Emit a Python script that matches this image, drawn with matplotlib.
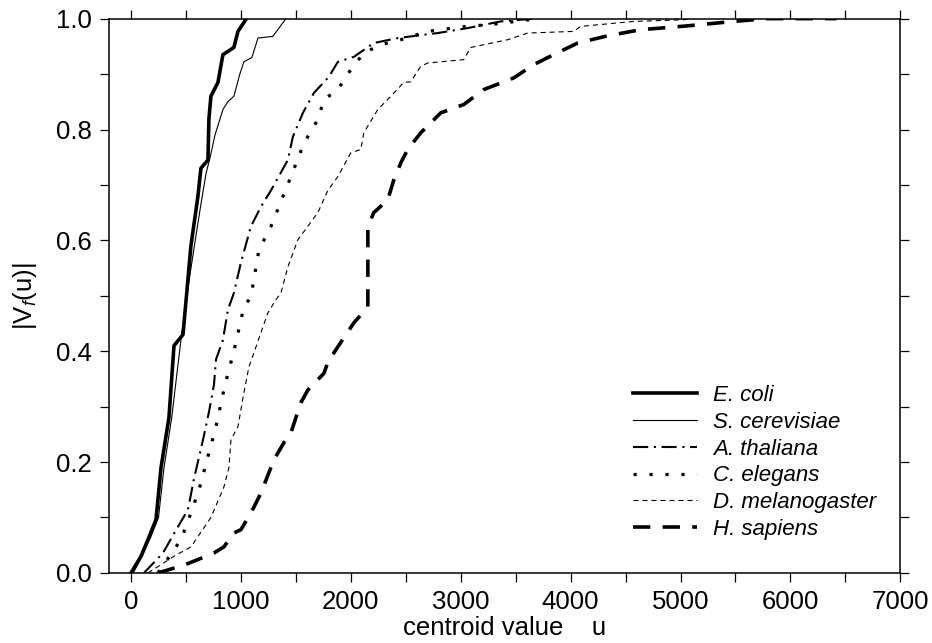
import matplotlib
matplotlib.use('Agg')
import matplotlib.pyplot as plt
from matplotlib.ticker import MultipleLocator, FormatStrFormatter

plt.rcParams['font.family'] = ['Liberation Sans', 'DejaVu Sans']
plt.rcParams['mathtext.fontset'] = 'custom'
plt.rcParams['mathtext.rm'] = 'Liberation Sans'
plt.rcParams['mathtext.it'] = 'Liberation Sans:italic'

# centroid value u vs fraction |V_f(u)|
ecoli_x = [0, 91, 164, 227, 273, 345, 391, 473, 500, 545, 609, 636, 700, 709, 727, 791, 836, 936, 973, 1050]
ecoli_y = [0, 0.03, 0.065, 0.096, 0.19, 0.28, 0.41, 0.43, 0.49, 0.59, 0.68, 0.73, 0.745, 0.82, 0.86, 0.885, 0.935, 0.948, 0.977, 1.0]

scer_x = [20, 100, 180, 250, 300, 370, 460, 530, 600, 640, 682, 720, 764, 836, 880, 936, 990, 1027, 1100, 1155, 1291, 1409]
scer_y = [0, 0.03, 0.065, 0.10, 0.19, 0.28, 0.43, 0.53, 0.62, 0.67, 0.72, 0.75, 0.79, 0.836, 0.85, 0.86, 0.90, 0.922, 0.93, 0.965, 0.968, 1.0]

athal_x = [118, 291, 382, 518, 573, 655, 709, 755, 773, 836, 882, 936, 1000, 1091, 1180, 1273, 1427, 1473, 1564, 1664,
           1800, 1882, 2027, 2209, 2427, 2791, 3064, 3364, 3664]
athal_y = [0, 0.036, 0.068, 0.114, 0.17, 0.24, 0.29, 0.34, 0.385, 0.42, 0.475, 0.505, 0.56, 0.625, 0.66, 0.69, 0.745, 0.787,
           0.83, 0.866, 0.895, 0.922, 0.931, 0.956, 0.965, 0.974, 0.983, 0.995, 1.0]

celeg_x = [245, 455, 545, 618, 700, 773, 845, 882, 936, 1027, 1091, 1164, 1273, 1455, 1573, 1700, 1755, 1882, 2000, 2118,
           2273, 2455, 2700, 3000, 3300, 3700]
celeg_y = [0, 0.06, 0.108, 0.15, 0.21, 0.264, 0.33, 0.36, 0.40, 0.48, 0.498, 0.583, 0.625, 0.715, 0.775, 0.818, 0.854, 0.872,
           0.908, 0.938, 0.953, 0.962, 0.977, 0.985, 0.99, 1.0]

dmel_x = [155, 391, 545, 727, 845, 891, 909, 973, 1027, 1073, 1118, 1245, 1318, 1364, 1427, 1518, 1700, 1791, 1882, 2000,
          2091, 2118, 2245, 2364, 2482, 2545, 2636, 2700, 3027, 3091, 3427, 3609, 4027, 4091, 4573, 5027, 5100]
dmel_y = [0, 0.03, 0.047, 0.10, 0.155, 0.19, 0.24, 0.264, 0.325, 0.372, 0.397, 0.469, 0.493, 0.505, 0.552, 0.601, 0.65, 0.69,
          0.715, 0.758, 0.764, 0.794, 0.836, 0.86, 0.885, 0.886, 0.914, 0.92, 0.926, 0.948, 0.962, 0.974, 0.977, 0.986,
          0.995, 0.998, 1.0]

hsap_x = [245, 482, 755, 845, 936, 1000, 1091, 1182, 1300, 1391, 1455, 1545, 1609, 1755, 1791, 1882, 2027, 2155, 2155, 2209,
          2336, 2391, 2455, 2518, 2636, 2818, 3027, 3209, 3482, 3664, 3845, 4064, 4336, 4636, 5064, 5482, 5791, 6420]
hsap_y = [0, 0.014, 0.036, 0.047, 0.072, 0.078, 0.108, 0.144, 0.204, 0.235, 0.253, 0.307, 0.33, 0.36, 0.38, 0.408, 0.451,
          0.48, 0.625, 0.65, 0.673, 0.709, 0.74, 0.764, 0.794, 0.83, 0.845, 0.872, 0.893, 0.917, 0.935, 0.956, 0.969, 0.98,
          0.987, 0.995, 1.0, 1.0]

fig = plt.figure(figsize=(9.32, 6.43), dpi=100)
ax = fig.add_axes([0.117, 0.109, 0.849, 0.862])

ax.plot(ecoli_x, ecoli_y, color='black', lw=2.6, ls='-', label='E. coli')
ax.plot(scer_x, scer_y, color='black', lw=0.8, ls='-', label='S. cerevisiae')
ax.plot(athal_x, athal_y, color='black', lw=1.5, ls=(0, (7.3, 2.7, 1, 2.7)), label='A. thaliana')
ax.plot(celeg_x, celeg_y, color='black', lw=2.3, ls=(0, (1, 4)), label='C. elegans')
ax.plot(dmel_x, dmel_y, color='black', lw=0.8, ls=(0, (4.5, 3.6)), label='D. melanogaster')
ax.plot(hsap_x, hsap_y, color='black', lw=2.6, ls=(0, (4.8, 3.4)), label='H. sapiens')

ax.set_xlim(-200, 7000)
ax.set_ylim(0, 1.0)

ax.xaxis.set_major_locator(MultipleLocator(1000))
ax.xaxis.set_minor_locator(MultipleLocator(500))
ax.yaxis.set_major_locator(MultipleLocator(0.2))
ax.yaxis.set_minor_locator(MultipleLocator(0.1))
ax.yaxis.set_major_formatter(FormatStrFormatter('%.1f'))

for which in ('major', 'minor'):
    ax.tick_params(which=which, direction='out', length=6.5, width=0.9,
                   top=True, right=True, labelsize=18.5, pad=6)
for sp in ax.spines.values():
    sp.set_linewidth(1.1)

ax.set_xlabel('centroid value    u', fontsize=18.5, labelpad=1)
ax.set_ylabel('|V$_f$(u)|', fontsize=18.5, labelpad=12)

leg = ax.legend(loc='upper left', bbox_to_anchor=(633 / 932, 1 - 385 / 643),
                bbox_transform=fig.transFigure, frameon=False,
                prop={'style': 'italic', 'size': 16}, handlelength=2.9,
                handletextpad=0.72, labelspacing=0.26, borderpad=0, borderaxespad=0)

fig.savefig('out.png', dpi=100)
